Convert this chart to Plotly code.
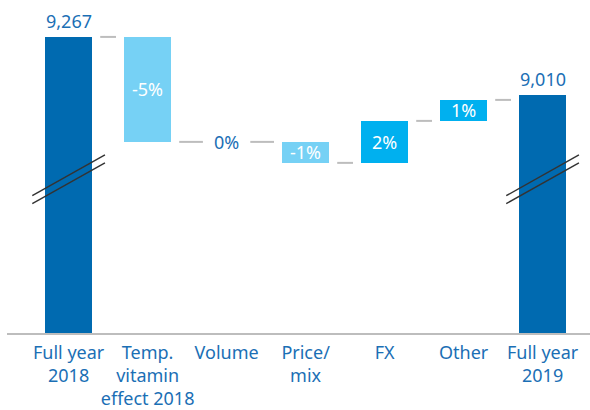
import plotly.graph_objects as go

# Sales bridge 2018 -> 2019 (EUR million), changes in % of 2018 sales
categories = ["Full year<br>2018", "Temp.<br>vitamin<br>effect 2018", "Volume",
              "Price/<br>mix", "FX", "Other", "Full year<br>2019"]
start_value = 9267
end_value = 9010
step_pct = [-5, 0, -1, 2, 1]          # Temp. vitamin, Volume, Price/mix, FX, Other

# styling
DARK = "#006ab0"
LIGHT = "#76d1f5"
BRIGHT = "#00b0ef"
TEXT = "#1b6fb5"
CONN = "#bdbdbd"
FONT = "Noto Sans"
Y_MIN, Y_MAX = 7960, 9430
BAR_W = 0.6
PAD = 0.1

fig = go.Figure()

# running levels
steps = [p * start_value / 100 for p in step_pct]
levels = [start_value]
for s in steps:
    levels.append(levels[-1] + s)

n = len(categories)
xs = list(range(n))

# totals (axis is broken, bars start at the axis floor)
for i, v in [(0, start_value), (n - 1, end_value)]:
    fig.add_trace(go.Bar(x=[i], y=[v - Y_MIN], base=[Y_MIN], width=BAR_W,
                         marker=dict(color=DARK, line=dict(width=0)),
                         hoverinfo="skip", showlegend=False))
    fig.add_annotation(x=i, y=v, text=f"{v:,}", showarrow=False, yanchor="bottom",
                       yshift=2, font=dict(family=FONT, size=18, color=TEXT))

# change steps
for k, (s, p) in enumerate(zip(steps, step_pct)):
    i = k + 1
    lo, hi = levels[k], levels[k + 1]
    label = f"{p}%"
    if s == 0:
        fig.add_annotation(x=i, y=lo, text=label, showarrow=False,
                           font=dict(family=FONT, size=18, color=TEXT))
        continue
    color = LIGHT if s < 0 else BRIGHT
    fig.add_trace(go.Bar(x=[i], y=[s], base=[lo], width=BAR_W,
                         marker=dict(color=color, line=dict(width=0)),
                         hoverinfo="skip", showlegend=False))
    fig.add_annotation(x=i, y=(lo + hi) / 2, text=label, showarrow=False,
                       font=dict(family=FONT, size=18, color="white"))

# connectors between neighbouring items
has_bar = [True] + [s != 0 for s in steps] + [True]
for i in range(n - 1):
    lvl = levels[i] if i < len(levels) else levels[-1]
    x0 = i + BAR_W / 2 + (PAD if has_bar[i] else 0)
    x1 = i + 1 - BAR_W / 2 - (PAD if has_bar[i + 1] else 0)
    fig.add_trace(go.Scatter(x=[x0, x1], y=[lvl, lvl], mode="lines",
                             line=dict(color=CONN, width=2),
                             hoverinfo="skip", showlegend=False))

# axis-break marks on the total bars
BREAK_Y = [8656, 8621]
BREAK_DX, BREAK_DY = 0.46, 90
for i in (0, n - 1):
    for by in BREAK_Y:
        fig.add_shape(type="line", x0=i - BREAK_DX, x1=i + BREAK_DX,
                      y0=by - BREAK_DY, y1=by + BREAK_DY,
                      line=dict(color="#333333", width=1.4), layer="above")

fig.update_layout(
    width=590, height=410,
    margin=dict(l=7, r=0, t=0, b=77),
    paper_bgcolor="white", plot_bgcolor="white",
    bargap=0, barmode="overlay",
    xaxis=dict(range=[-0.78, 6.6], tickvals=xs, ticktext=categories,
               tickangle=0, automargin=False,
               showgrid=False, zeroline=False, showline=True,
               linecolor=CONN, linewidth=2, ticks="outside", ticklen=2,
               tickcolor="rgba(0,0,0,0)",
               tickfont=dict(family=FONT, size=18, color=TEXT)),
    yaxis=dict(range=[Y_MIN, Y_MAX], visible=False, showgrid=False, zeroline=False),
)

fig.write_html("out.html")
